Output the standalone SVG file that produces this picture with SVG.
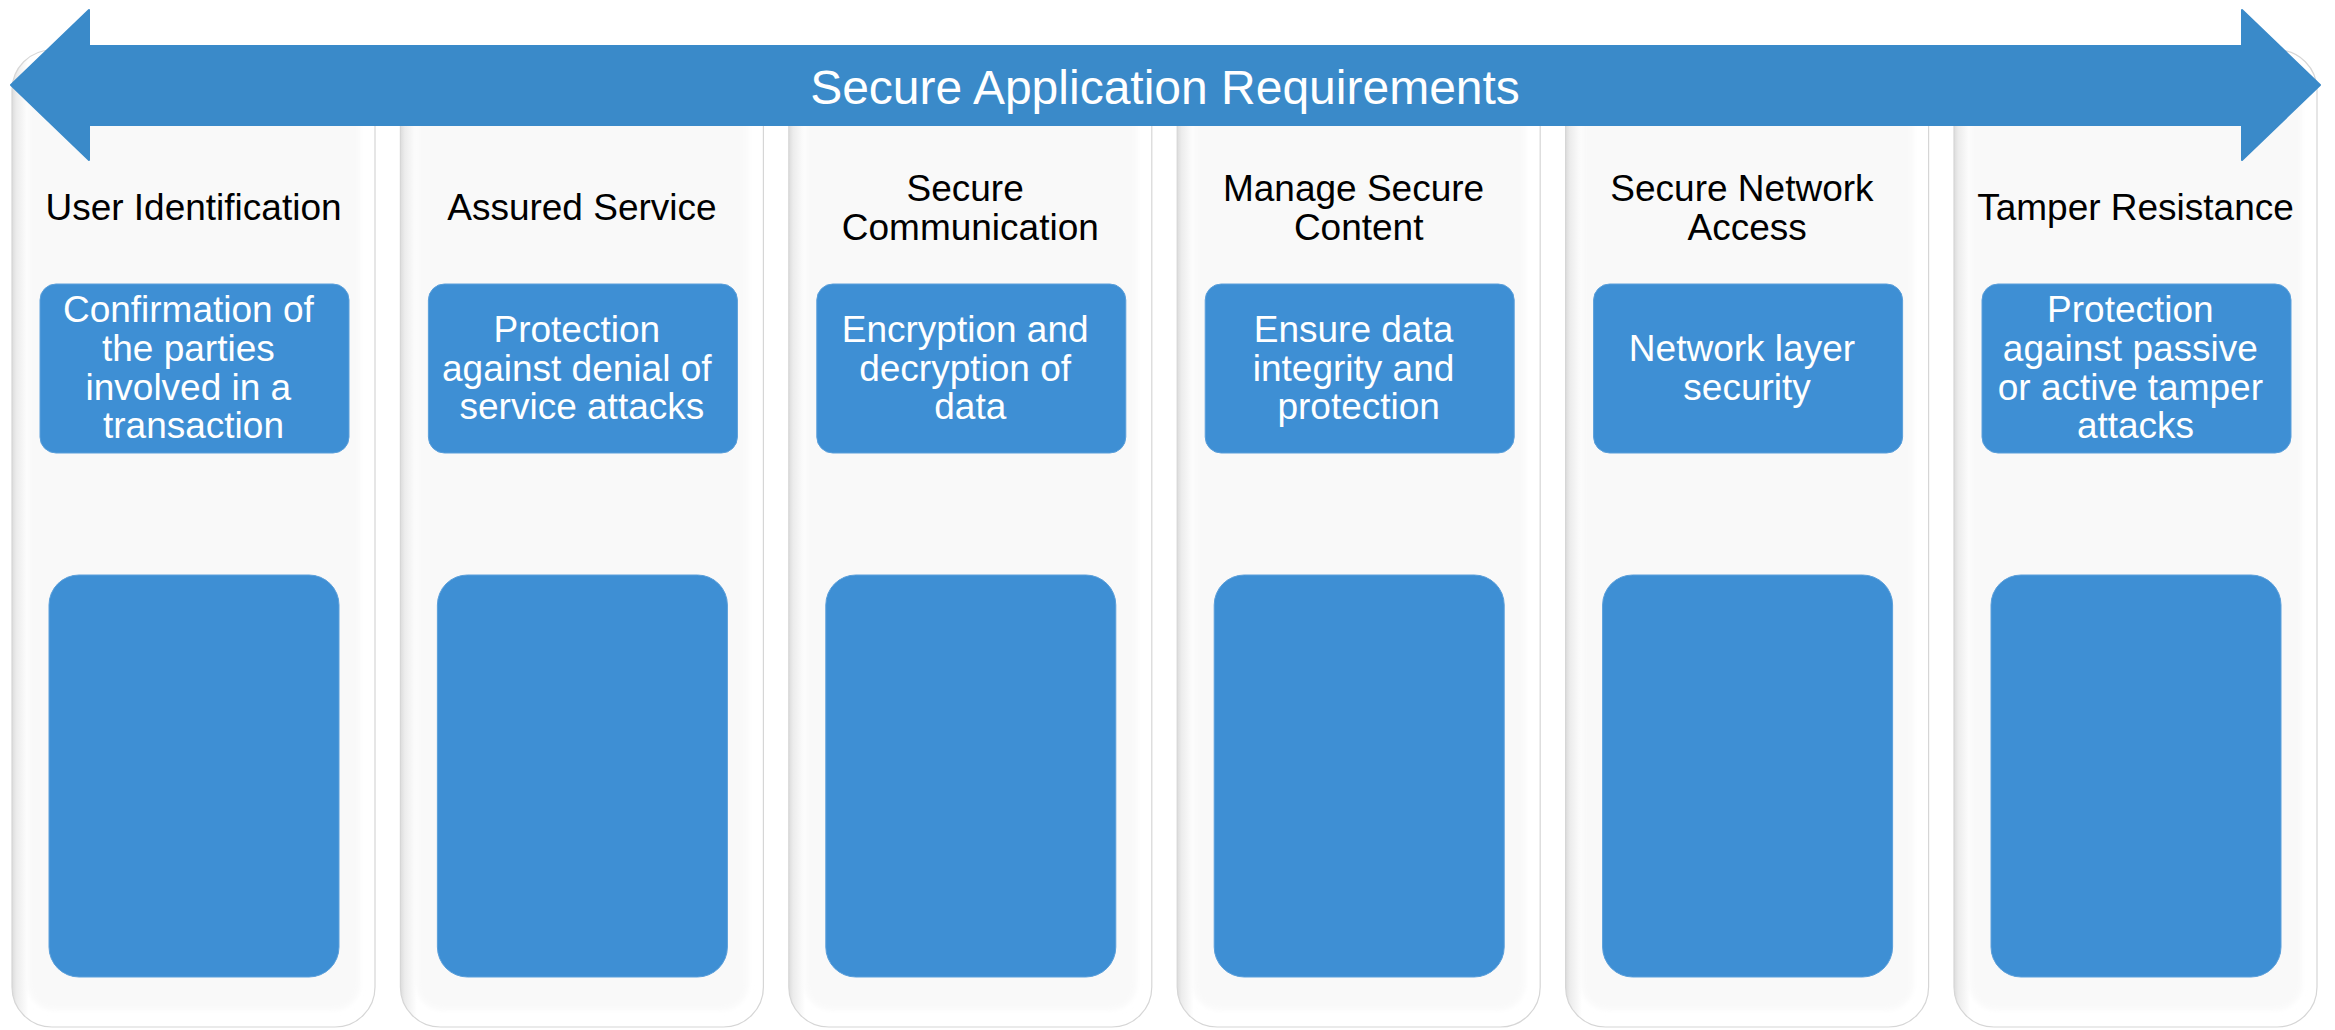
<svg xmlns="http://www.w3.org/2000/svg" width="2335" height="1030" viewBox="0 0 2335 1030">
  <defs>
    <!-- column body: shaded left edge fading to white -->
    <linearGradient id="colEdge" x1="0" y1="0" x2="1" y2="0">
      <stop offset="0" stop-color="#dcdcdc"/>
      <stop offset="0.012" stop-color="#ececec"/>
      <stop offset="0.045" stop-color="#ffffff"/>
      <stop offset="1" stop-color="#ffffff"/>
    </linearGradient>
    <filter id="soft" x="-5%" y="-5%" width="110%" height="110%">
      <feGaussianBlur stdDeviation="2.5"/>
    </filter>
    <style>
      .col-outer { fill: url(#colEdge); stroke: #d6d6d6; stroke-width: 1.2; }
      .col-inner { fill: #f9f9f9; filter: url(#soft); }
      .box { fill: #3e8fd4; stroke: #5a9fdb; stroke-width: 1; }
      .banner { fill: #3a8ac9; stroke: #3a8ac9; stroke-width: 2; stroke-linejoin: round; }
      .title { font-family: "Liberation Sans", Arial, sans-serif; font-size: 48px; fill: #ffffff; text-anchor: middle; }
      .head { font-family: "Liberation Sans", Arial, sans-serif; font-size: 37px; fill: #000000; text-anchor: middle; }
      .desc { font-family: "Liberation Sans", Arial, sans-serif; font-size: 37px; fill: #ffffff; text-anchor: middle; }
    </style>
    <!-- one column shell, positioned per column -->
    <g id="shell">
      <rect class="col-outer" x="0" y="50" width="363" height="977" rx="40" ry="40"/>
      <rect class="col-inner" x="16" y="60" width="332" height="950" rx="26" ry="26"/>
      <rect class="box" x="37" y="575" width="290" height="402" rx="30" ry="30"/>
    </g>
  </defs>

  <rect x="0" y="0" width="2335" height="1030" fill="#ffffff"/>

  <!-- column 1 -->
  <g id="col-user-identification">
    <use href="#shell" x="12"/>
    <text class="head" x="193.5" y="220">User Identification</text>
    <rect class="box" x="40" y="284" width="309" height="169" rx="16"/>
    <text class="desc" x="193.5">
      <tspan x="193.5" y="322">Confirmation of</tspan>
      <tspan x="193.5" y="361">the parties</tspan>
      <tspan x="193.5" y="399.5">involved in a</tspan>
      <tspan x="193.5" y="438">transaction</tspan>
    </text>
  </g>

  <!-- column 2 -->
  <g id="col-assured-service">
    <use href="#shell" x="400.4"/>
    <text class="head" x="581.9" y="220">Assured Service</text>
    <rect class="box" x="428.4" y="284" width="309" height="169" rx="16"/>
    <text class="desc">
      <tspan x="581.9" y="342">Protection</tspan>
      <tspan x="581.9" y="380.5">against denial of</tspan>
      <tspan x="581.9" y="419">service attacks</tspan>
    </text>
  </g>

  <!-- column 3 -->
  <g id="col-secure-communication">
    <use href="#shell" x="788.8"/>
    <text class="head">
      <tspan x="970.3" y="201">Secure</tspan>
      <tspan x="970.3" y="240">Communication</tspan>
    </text>
    <rect class="box" x="816.8" y="284" width="309" height="169" rx="16"/>
    <text class="desc">
      <tspan x="970.3" y="342">Encryption and</tspan>
      <tspan x="970.3" y="380.5">decryption of</tspan>
      <tspan x="970.3" y="419">data</tspan>
    </text>
  </g>

  <!-- column 4 -->
  <g id="col-manage-secure-content">
    <use href="#shell" x="1177.2"/>
    <text class="head">
      <tspan x="1358.7" y="201">Manage Secure</tspan>
      <tspan x="1358.7" y="240">Content</tspan>
    </text>
    <rect class="box" x="1205.2" y="284" width="309" height="169" rx="16"/>
    <text class="desc">
      <tspan x="1358.7" y="342">Ensure data</tspan>
      <tspan x="1358.7" y="380.5">integrity and</tspan>
      <tspan x="1358.7" y="419">protection</tspan>
    </text>
  </g>

  <!-- column 5 -->
  <g id="col-secure-network-access">
    <use href="#shell" x="1565.6"/>
    <text class="head">
      <tspan x="1747.1" y="201">Secure Network</tspan>
      <tspan x="1747.1" y="240">Access</tspan>
    </text>
    <rect class="box" x="1593.6" y="284" width="309" height="169" rx="16"/>
    <text class="desc">
      <tspan x="1747.1" y="361">Network layer</tspan>
      <tspan x="1747.1" y="399.5">security</tspan>
    </text>
  </g>

  <!-- column 6 -->
  <g id="col-tamper-resistance">
    <use href="#shell" x="1954"/>
    <text class="head" x="2135.5" y="220">Tamper Resistance</text>
    <rect class="box" x="1982" y="284" width="309" height="169" rx="16"/>
    <text class="desc">
      <tspan x="2135.5" y="322">Protection</tspan>
      <tspan x="2135.5" y="361">against passive</tspan>
      <tspan x="2135.5" y="399.5">or active tamper</tspan>
      <tspan x="2135.5" y="438">attacks</tspan>
    </text>
  </g>

  <!-- double-headed banner across the top -->
  <g id="banner-requirements">
    <polygon class="banner" points="11,85 89,10 89,46 2242,46 2242,10 2320,85 2242,160 2242,125 89,125 89,160"/>
    <text class="title" x="1165" y="104">Secure Application Requirements</text>
  </g>
</svg>
